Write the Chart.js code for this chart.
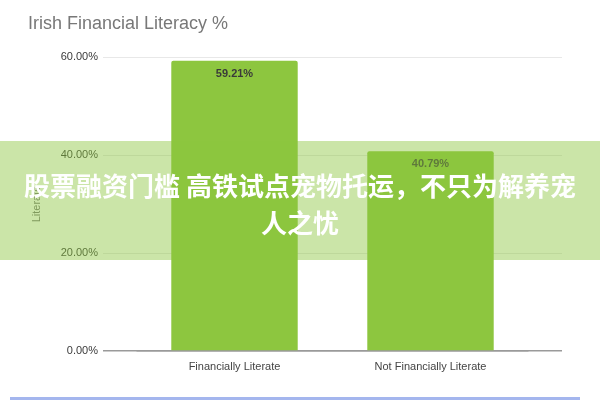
<!DOCTYPE html>
<html>
<head>
<meta charset="utf-8">
<script src="https://cdn.jsdelivr.net/npm/chart.js@4/dist/chart.umd.min.js"></script>
<style>
  html, body { margin: 0; padding: 0; background: #fff; }
  #wrap { position: relative; width: 600px; height: 400px; overflow: hidden; }
  #banner {
    position: absolute; left: 0; top: 141px; width: 600px; height: 119px;
    background: rgba(140, 198, 63, 0.45);
    color: #fff; font-family: "Noto Sans CJK SC", sans-serif; font-weight: bold;
    font-size: 26px; line-height: 37px; text-align: center;
    box-sizing: border-box; padding-top: 25px; white-space: nowrap;
  }
  #bottomline {
    position: absolute; left: 10px; top: 397px; width: 570px; height: 3px;
    background: #a4b6ee;
  }
</style>
</head>
<body>
<div id="wrap">
  <canvas id="chart1" width="600" height="400"></canvas>
  <div id="banner">股票融资门槛 高铁试点宠物托运，不只为解养宠<br>人之忧</div>
  <div id="bottomline"></div>
</div>
<script>
const categories = ['Financially Literate', 'Not Financially Literate']
const literateValues = [59.21, 40.79]
const yTicks = [0, 20, 40, 60]

const pct = v => Number(v).toFixed(2) + '%'

// draws the value inside the top of each bar
const barValueLabels = {
    id: 'barValueLabels',
    afterDatasetsDraw(chart) {
        const ctx = chart.ctx
        const meta = chart.getDatasetMeta(0)
        ctx.save()
        ctx.font = 'bold 11px "Liberation Sans", Arial, sans-serif'
        ctx.fillStyle = '#3a3a3a'
        ctx.textAlign = 'center'
        ctx.textBaseline = 'middle'
        meta.data.forEach((bar, i) => {
            ctx.fillText(pct(literateValues[i]), bar.x, bar.y + 13)
        })
        ctx.restore()
    }
}

const gridColor = c => c.tick && c.tick.value === 0 ? '#9a9a9a' : '#e8e8e8'
const gridWidth = c => c.tick && c.tick.value === 0 ? 1.5 : 1

function renderChart() {
    const ctx = document.querySelector('#chart1').getContext('2d')
    const chart1 = new Chart(ctx, {
        type: 'bar',
        data: {
            labels: categories,
            datasets: [{
                label: 'Literate',
                data: literateValues,
                backgroundColor: '#8dc63f',
                borderRadius: 2,
                borderSkipped: 'bottom',
                barPercentage: 0.645,
                categoryPercentage: 1
            }]
        },
        options: {
            responsive: false,
            animation: false,
            layout: {
                padding: { left: 28, right: 38, top: 10, bottom: 19 }
            },
            plugins: {
                legend: { display: false },
                tooltip: { enabled: false },
                title: {
                    display: true,
                    text: 'Irish Financial Literacy %',
                    align: 'start',
                    color: '#787878',
                    font: { family: '"Liberation Sans", Arial, sans-serif', size: 18, weight: 'normal' },
                    padding: { top: 3, bottom: 22.4 }
                }
            },
            scales: {
                x: {
                    grid: { display: false, drawTicks: false },
                    border: { display: false },
                    ticks: {
                        padding: 9,
                        color: '#444',
                        font: { family: '"Liberation Sans", Arial, sans-serif', size: 11 }
                    },
                    afterFit: s => { s.height = 30 }
                },
                y: {
                    position: 'left',
                    min: 0,
                    max: 60,
                    afterBuildTicks: s => { s.ticks = yTicks.map(v => ({ value: v })) },
                    grid: { color: gridColor, tickLength: 33.5, tickColor: gridColor, lineWidth: gridWidth },
                    border: { display: false },
                    ticks: {
                        padding: 5,
                        color: '#3a3a3a',
                        font: { family: '"Liberation Sans", Arial, sans-serif', size: 11 },
                        callback: v => pct(v)
                    },
                    title: {
                        display: true,
                        text: 'Literate',
                        color: '#777',
                        padding: { top: 2, bottom: 0 },
                        font: { family: '"Liberation Sans", Arial, sans-serif', size: 11 }
                    },
                    afterFit: s => { s.width = 108.5 }
                },
                y2: {
                    position: 'right',
                    min: 0,
                    max: 60,
                    afterBuildTicks: s => { s.ticks = yTicks.map(v => ({ value: v })) },
                    grid: { color: gridColor, tickLength: 33.5, tickColor: gridColor, lineWidth: gridWidth },
                    border: { display: false },
                    ticks: { display: false },
                    afterFit: s => { s.width = 33.5 }
                }
            }
        },
        plugins: [barValueLabels]
    })
}

renderChart()
</script>
</body>
</html>
